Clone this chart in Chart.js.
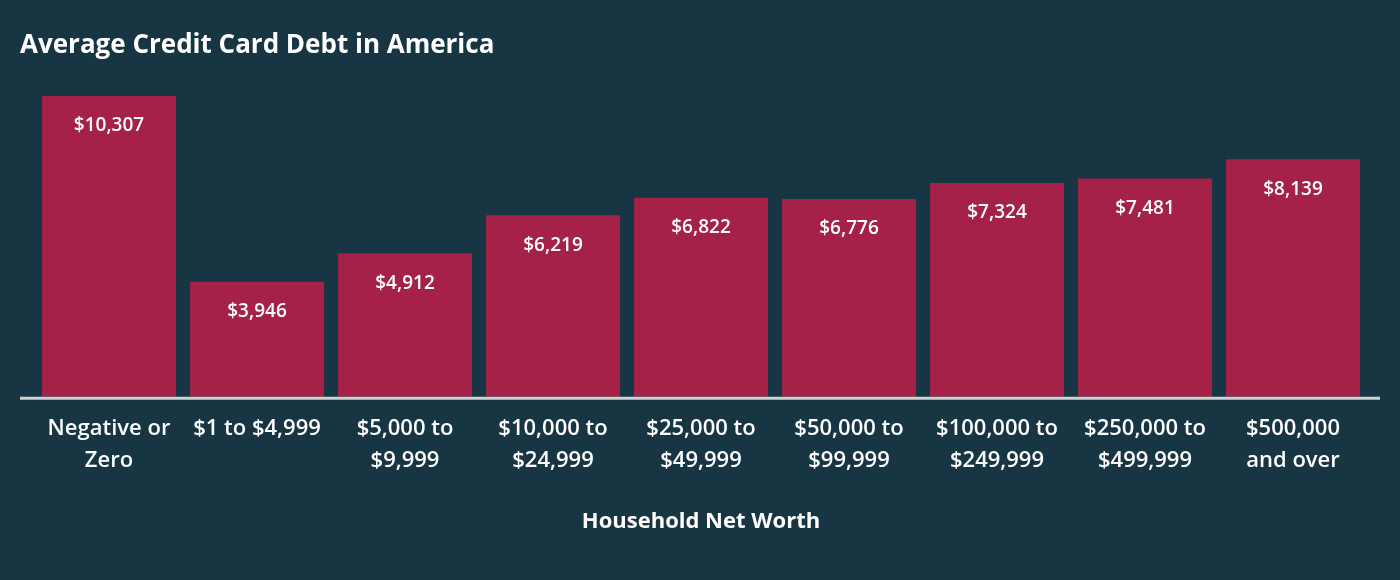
<!DOCTYPE html>
<html>
<head>
<meta charset="utf-8">
<title>Average Credit Card Debt in America</title>
<script src="https://cdn.jsdelivr.net/npm/chart.js@4.4.1/dist/chart.umd.min.js"></script>
<style>
  html, body { margin: 0; padding: 0; background: #173542; }
  #wrap { width: 1400px; height: 580px; position: relative; }
</style>
</head>
<body>
<div id="wrap"><canvas id="debtChart"></canvas></div>
<script>
const CATEGORIES = [
  ['Negative or', 'Zero'],
  ['$1 to $4,999'],
  ['$5,000 to', '$9,999'],
  ['$10,000 to', '$24,999'],
  ['$25,000 to', '$49,999'],
  ['$50,000 to', '$99,999'],
  ['$100,000 to', '$249,999'],
  ['$250,000 to', '$499,999'],
  ['$500,000', 'and over']
];
const DEBT = [10307, 3946, 4912, 6219, 6822, 6776, 7324, 7481, 8139];

const BG = '#173542';
const BAR = '#a52147';
const FONT = '"Open Sans", Lato, sans-serif';

function money(v) {
  return '$' + v.toLocaleString('en-US');
}

// value labels just inside the top of each bar
const barLabels = {
  id: 'barLabels',
  afterDatasetsDraw(chart) {
    const { ctx } = chart;
    const meta = chart.getDatasetMeta(0);
    ctx.save();
    ctx.fillStyle = '#ffffff';
    ctx.font = '600 19px ' + FONT;
    ctx.textAlign = 'center';
    ctx.textBaseline = 'middle';
    meta.data.forEach((bar, i) => {
      ctx.fillText(money(DEBT[i]), bar.x, bar.y + 30);
    });
    ctx.restore();
  }
};

// light baseline that runs a bit past the bars
const baseLine = {
  id: 'baseLine',
  afterDatasetsDraw(chart) {
    const { ctx } = chart;
    const y = chart.scales.y.getPixelForValue(0);
    ctx.save();
    ctx.strokeStyle = '#cfcfcf';
    ctx.lineWidth = 3;
    ctx.beginPath();
    ctx.moveTo(20, y + 1.5);
    ctx.lineTo(1380, y + 1.5);
    ctx.stroke();
    ctx.restore();
  }
};

new Chart(document.getElementById('debtChart'), {
  type: 'bar',
  data: {
    labels: CATEGORIES,
    datasets: [{
      label: 'Average credit card debt',
      data: DEBT,
      backgroundColor: BAR,
      borderWidth: 0,
      categoryPercentage: 1,
      barPercentage: 0.905
    }]
  },
  options: {
    responsive: true,
    maintainAspectRatio: false,
    animation: false,
    layout: {
      padding: { left: 20, right: 33, top: 0, bottom: 35 }
    },
    scales: {
      x: {
        grid: { display: false, drawTicks: false },
        border: { display: false },
        ticks: {
          color: '#ffffff',
          padding: 16,
          maxRotation: 0,
          autoSkip: false,
          font: { family: FONT, size: 22, weight: '600', lineHeight: 1.45 }
        },
        title: {
          display: true,
          text: 'Household Net Worth',
          color: '#ffffff',
          padding: { top: 16, bottom: 10 },
          font: { family: FONT, size: 22, weight: 'bold', lineHeight: 1.2 }
        }
      },
      y: {
        min: 0,
        max: 11000,
        grid: { display: false, drawTicks: false },
        border: { display: false },
        ticks: { display: false },
        afterFit(scale) { scale.width = 15; }
      }
    },
    plugins: {
      legend: { display: false },
      tooltip: { enabled: false },
      title: {
        display: true,
        text: 'Average Credit Card Debt in America',
        align: 'start',
        color: '#ffffff',
        padding: { top: 30, bottom: 14.6 },
        font: { family: FONT, size: 26, weight: 'bold', lineHeight: 1.2 }
      }
    }
  },
  plugins: [barLabels, baseLine]
});
</script>
</body>
</html>
